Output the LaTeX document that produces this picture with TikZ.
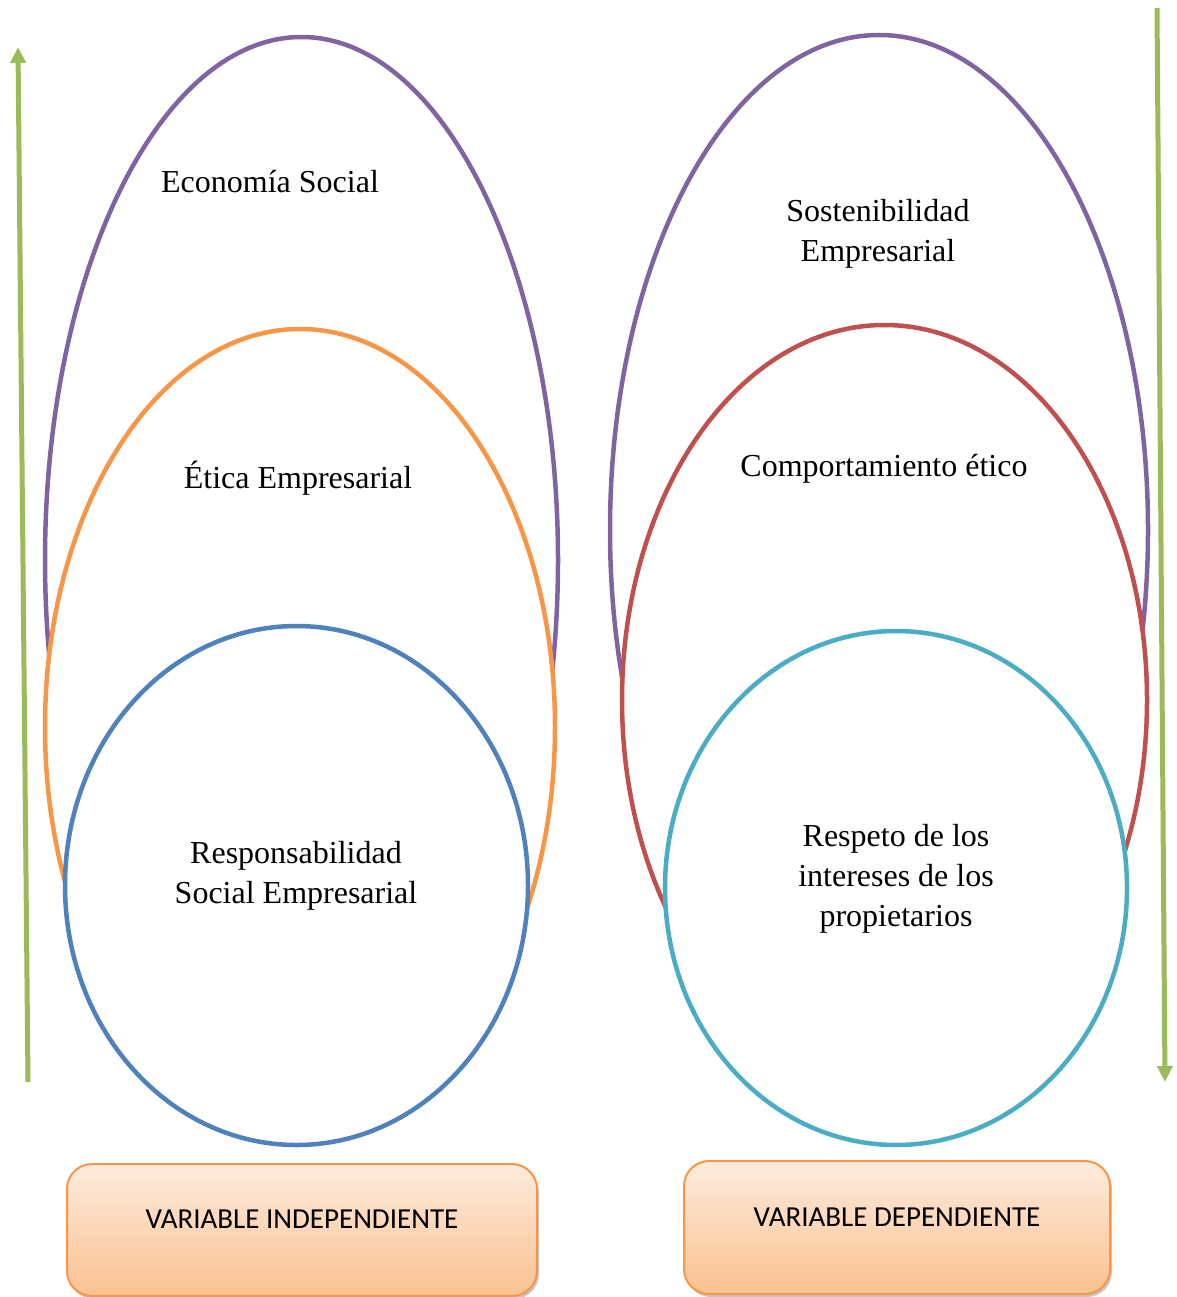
\documentclass[tikz,border=0pt]{standalone}
\usepackage{fontspec}
\setmainfont{Liberation Serif}
\newfontfamily\boxfont{Carlito}
\usetikzlibrary{shapes.geometric,arrows.meta,shadows}
\definecolor{cpurple}{HTML}{8064A2}
\definecolor{corange}{HTML}{F79646}
\definecolor{cblue}{HTML}{4F81BD}
\definecolor{cred}{HTML}{C0504D}
\definecolor{ccyan}{HTML}{4BACC6}
\definecolor{cgreen}{HTML}{9BBB59}
\definecolor{boxtop}{HTML}{FDEBDD}
\definecolor{boxbot}{HTML}{FBC190}
\tikzset{
  oval/.style={ellipse, draw=#1, line width=4.5pt, fill=white, inner sep=0pt},
  lbl/.style={align=center, font=\fontsize{32}{40}\selectfont, inner sep=0pt},
  varbox/.style={draw=corange, line width=2pt, rounded corners=25pt, top color=boxtop, bottom color=boxbot,
     drop shadow={shadow xshift=2pt, shadow yshift=-3pt, fill=black!45, opacity=0.5},
     inner sep=0pt},
  boxtxt/.style={font=\boxfont\fontsize{29}{34}\selectfont, inner sep=0pt},
  garrow/.style={draw=cgreen, line width=5pt, -{Triangle[width=15pt,length=16pt]}}
}
\begin{document}
\begin{tikzpicture}[x=1pt,y=-1pt]
\useasboundingbox (0,0) rectangle (1176,1297);
% left ellipses
\node[oval=cpurple, minimum width=513pt, minimum height=1046pt] (lp) at (301.5,560) {};
\node[oval=corange, minimum width=510pt, minimum height=796pt] (lo) at (300,727) {};
\node[oval=cblue, minimum width=463pt, minimum height=519pt] (lb) at (296.5,885.5) {};
% right ellipses
\node[oval=cpurple, minimum width=538pt, minimum height=990pt] (rp) at (879,530) {};
\node[oval=cred, minimum width=525pt, minimum height=750pt] (rr) at (884.5,700) {};
\node[oval=ccyan, minimum width=462pt, minimum height=514pt] (rc) at (896,888) {};
% labels
\node[lbl] (t1) at (270,182) {Economía Social};
\node[lbl] (t2) at (298,478) {Ética Empresarial};
\node[lbl] (t3) at (296,876) {Responsabilidad\\Social Empresarial};
\node[lbl] (t4) at (878,234) {Sostenibilidad\\Empresarial};
\node[lbl] (t5) at (884,469) {Comportamiento ético};
\node[lbl] (t6) at (896,879) {Respeto de los\\intereses de los\\propietarios};
% boxes
\node[varbox, minimum width=470pt, minimum height=132pt] (bl) at (302,1230) {};
\node[boxtxt] (blt) at (302,1219) {VARIABLE INDEPENDIENTE};
\node[varbox, minimum width=426pt, minimum height=133pt] (br) at (897,1227.5) {};
\node[boxtxt] (brt) at (897,1217) {VARIABLE DEPENDIENTE};
% arrows
\coordinate (la1) at (28,1082);
\coordinate (la2) at (18,47);
\coordinate (ra1) at (1157,8);
\coordinate (ra2) at (1165,1082);
\draw[garrow] (la1) -- (la2);
\draw[garrow] (ra1) -- (ra2);
\end{tikzpicture}
\end{document}
